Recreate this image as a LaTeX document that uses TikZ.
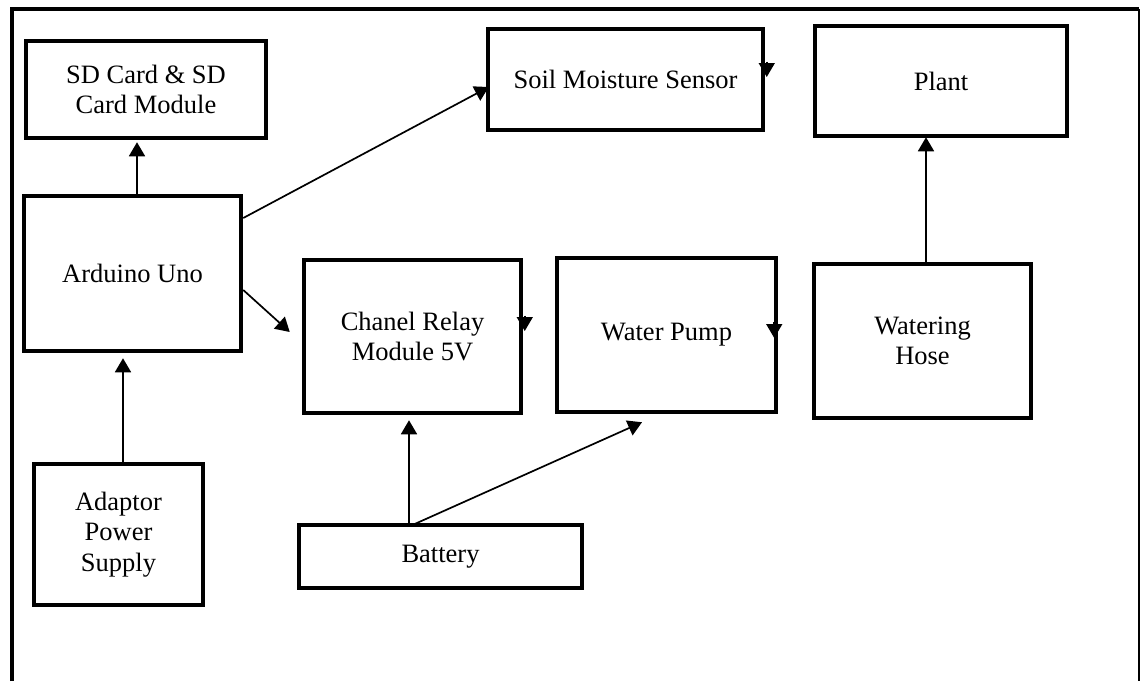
\documentclass[tikz,border=0pt]{standalone}
\usepackage{fontspec}
\setmainfont{Liberation Serif}
\usetikzlibrary{arrows.meta}
\begin{document}
\begin{tikzpicture}[x=0.5pt,y=-0.5pt,
  box/.style={draw, line width=2.25pt, rectangle, inner sep=0pt, align=center,
    font=\fontsize{13.25pt}{15.25pt}\selectfont},
  arr/.style={line width=0.85pt, -{Triangle[length=7pt,width=8pt]}},
  framethick/.style={line width=1.9pt},
  framethin/.style={line width=1pt}]
\useasboundingbox (0,0) rectangle (1141,681);
% outer frame (open at the bottom)
\coordinate (fbl) at (12,681);
\coordinate (ftl) at (12,9);
\coordinate (ftr) at (1139,9);
\coordinate (fbr) at (1139,681);
\draw[framethick] (fbl) -- (ftl) -- (ftr);
\draw[framethin] (ftr) -- (fbr);
% boxes
\node[box, minimum width=120pt, minimum height=48.5pt] (sd) at (146,89.5) {SD Card \& SD\\Card Module};
\node[box, minimum width=108.5pt, minimum height=77.5pt] (ard) at (132.5,273.5) {Arduino Uno};
\node[box, minimum width=137.5pt, minimum height=50.5pt] (soil) at (625.5,79.5) {Soil Moisture Sensor};
\node[box, minimum width=126pt, minimum height=55pt] (plant) at (941,81) {Plant};
\node[box, minimum width=108.5pt, minimum height=76.5pt] (relay) at (412.5,336.5) {Chanel Relay\\Module 5V};
\node[box, minimum width=109.5pt, minimum height=77pt] (pump) at (666.5,335) {Water Pump};
\node[box, minimum width=108.5pt, minimum height=77pt] (hose) at (922.5,341) {Watering\\Hose};
\node[box, minimum width=84.5pt, minimum height=70.5pt] (adapt) at (118.5,534.5) {Adaptor\\Power\\Supply};
\node[box, minimum width=141.5pt, minimum height=31.5pt] (batt) at (440.5,556.5) {Battery};
% connectors
\draw[arr] ([xshift=2.25pt]ard.north) -- ([xshift=-4.5pt,yshift=-1pt]sd.south);
\draw[arr] ([yshift=27.75pt]ard.east) -- ([xshift=1.5pt,yshift=-3.75pt]soil.west);
\draw[arr] ([yshift=-8.25pt]ard.east) -- ([xshift=-6pt,yshift=2.25pt]relay.west);
\draw[arr] ([xshift=2.25pt]adapt.north) -- ([xshift=-4.75pt,yshift=-2.5pt]ard.south);
\draw[arr] ([xshift=-15.75pt]batt.north) -- ([xshift=-1.75pt,yshift=-2.5pt]relay.south);
\draw[arr] ([xshift=-13.75pt,yshift=-1pt]batt.north) -- ([xshift=-12.25pt,yshift=-4pt]pump.south);
\draw[arr] ([xshift=1.75pt]hose.north) -- ([xshift=-7.5pt,yshift=0.5pt]plant.south);
% arrowheads lying on the right edges
\draw[arr] ([xshift=0.75pt,yshift=9pt]soil.east) -- ([xshift=0.75pt,yshift=1.25pt]soil.east);
\draw[arr] ([xshift=0.75pt,yshift=10.5pt]relay.east) -- ([xshift=0.75pt,yshift=2.75pt]relay.east);
\draw[arr] ([xshift=-2pt,yshift=6.5pt]pump.east) -- ([xshift=-2pt,yshift=-1.5pt]pump.east);
\end{tikzpicture}
\end{document}
